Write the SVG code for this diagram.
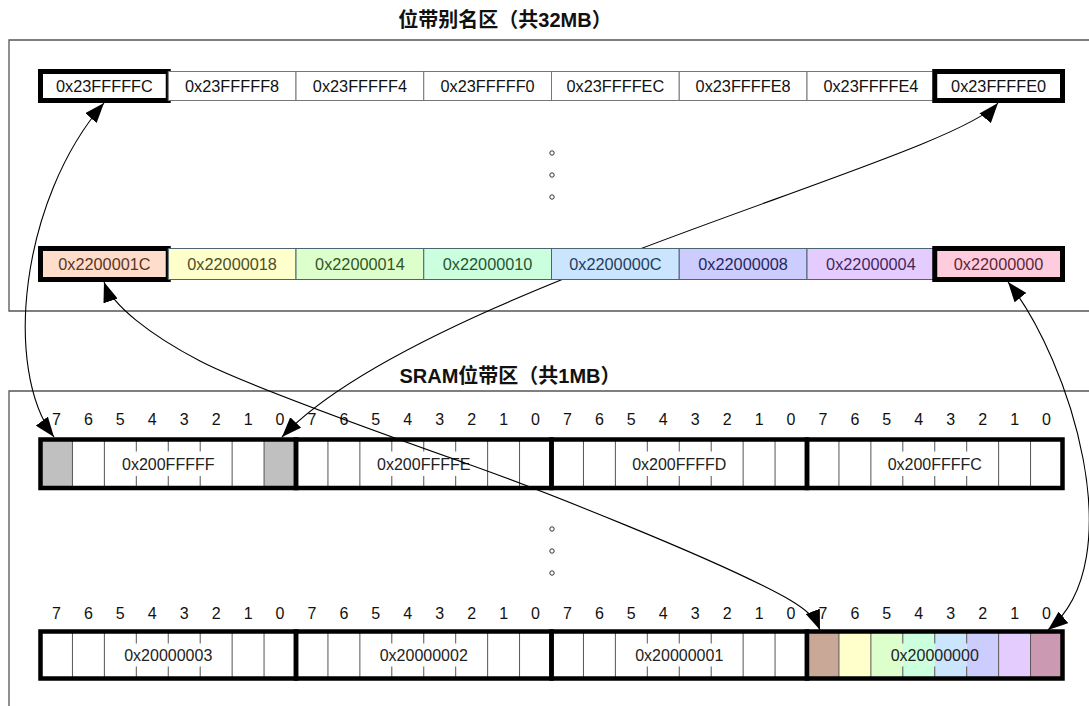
<svg xmlns="http://www.w3.org/2000/svg" width="1089" height="706" viewBox="0 0 1089 706">
<defs>
<style>
.title{font-family:"Liberation Sans","Noto Sans CJK SC",sans-serif;font-weight:bold;font-size:20px;fill:#111;text-anchor:middle}
.frame{fill:none;stroke:#555;stroke-width:1.3}
.cell{fill:#fff;stroke:#777;stroke-width:1}
.ctxt{font-family:"Liberation Sans",Arial,sans-serif;font-size:16.3px;fill:#111;text-anchor:middle}
.sel{fill:none;stroke:#000;stroke-width:5}
.acell{stroke:#4a6470;stroke-width:1}
.bit{font-family:"Liberation Sans",Arial,sans-serif;font-size:16px;fill:#111;text-anchor:middle}
.byte{fill:none;stroke:#000;stroke-width:4.5}
.div{stroke:#555;stroke-width:1}
.btxt{font-family:"Liberation Sans",Arial,sans-serif;font-size:16px;fill:#222;text-anchor:middle}
.dot{fill:#fff;stroke:#333;stroke-width:1}
.conn{fill:none;stroke:#000;stroke-width:1.1;marker-start:url(#ah);marker-end:url(#ah)}
</style>
<marker id="ah" viewBox="0 0 20 15" refX="20" refY="7.5" markerWidth="20" markerHeight="15" markerUnits="userSpaceOnUse" orient="auto-start-reverse">
<path d="M0,0 L20,7.5 L0,15 z" fill="#000"/>
</marker>
</defs>

<g id="frames">
<path class="frame" d="M1089,40 H9 V311 H1089"/>
<path class="frame" d="M1089,391 H9 V706"/>
</g>
<text class="title" x="505" y="27">位带别名区（共32MB）</text>
<text class="title" x="510" y="383">SRAM位带区（共1MB）</text>

<g id="dots">
<circle class="dot" cx="552" cy="153" r="2.2"/>
<circle class="dot" cx="552" cy="175" r="2.2"/>
<circle class="dot" cx="552" cy="197" r="2.2"/>
<circle class="dot" cx="552" cy="529" r="2.2"/>
<circle class="dot" cx="552" cy="551" r="2.2"/>
<circle class="dot" cx="552" cy="573" r="2.2"/>
</g>

<g id="bitlabels">
<text class="bit" y="425" x="56.5 88.4 120.3 152.3 184.2 216.2 248.1 280">76543210</text>
<text class="bit" y="425" x="312 343.9 375.8 407.8 439.7 471.7 503.6 535.5">76543210</text>
<text class="bit" y="425" x="567.5 599.4 631.3 663.3 695.2 727.2 759.1 791">76543210</text>
<text class="bit" y="425" x="823 854.9 886.8 918.8 950.7 982.7 1014.6 1046.5">76543210</text>
<text class="bit" y="618.5" x="56.5 88.4 120.3 152.3 184.2 216.2 248.1 280">76543210</text>
<text class="bit" y="618.5" x="312 343.9 375.8 407.8 439.7 471.7 503.6 535.5">76543210</text>
<text class="bit" y="618.5" x="567.5 599.4 631.3 663.3 695.2 727.2 759.1 791">76543210</text>
<text class="bit" y="618.5" x="823 854.9 886.8 918.8 950.7 982.7 1014.6 1046.5">76543210</text>
</g>

<g id="b-200FFFFF">
<rect x="40.5" y="439.5" width="31.94" height="48.5" fill="#c0c0c0"/>
<rect x="264.06" y="439.5" width="31.94" height="48.5" fill="#c0c0c0"/>
<path class="div" d="M72.44,439.5V488M104.38,439.5V488M232.13,439.5V488M264.06,439.5V488M136.31,439.5v12M168.25,439.5v12M200.19,439.5v12M136.31,488v-12M168.25,488v-12M200.19,488v-12"/>
<text class="btxt" x="168.25" y="469.5">0x200FFFFF</text>
<rect class="byte" x="40.5" y="439.5" width="255.5" height="48.5"/>
</g>
<g id="b-200FFFFE">
<path class="div" d="M327.94,439.5V488M359.88,439.5V488M487.63,439.5V488M519.56,439.5V488M391.81,439.5v12M423.75,439.5v12M455.69,439.5v12M391.81,488v-12M423.75,488v-12M455.69,488v-12"/>
<text class="btxt" x="423.75" y="469.5">0x200FFFFE</text>
<rect class="byte" x="296" y="439.5" width="255.5" height="48.5"/>
</g>
<g id="b-200FFFFD">
<path class="div" d="M583.44,439.5V488M615.38,439.5V488M743.13,439.5V488M775.06,439.5V488M647.31,439.5v12M679.25,439.5v12M711.19,439.5v12M647.31,488v-12M679.25,488v-12M711.19,488v-12"/>
<text class="btxt" x="679.25" y="469.5">0x200FFFFD</text>
<rect class="byte" x="551.5" y="439.5" width="255.5" height="48.5"/>
</g>
<g id="b-200FFFFC">
<path class="div" d="M838.94,439.5V488M870.88,439.5V488M998.63,439.5V488M1030.56,439.5V488M902.81,439.5v12M934.75,439.5v12M966.69,439.5v12M902.81,488v-12M934.75,488v-12M966.69,488v-12"/>
<text class="btxt" x="934.75" y="469.5">0x200FFFFC</text>
<rect class="byte" x="807" y="439.5" width="255.5" height="48.5"/>
</g>

<g id="b-20000003">
<path class="div" d="M72.44,631.5V678.5M104.38,631.5V678.5M232.13,631.5V678.5M264.06,631.5V678.5M136.31,631.5v12M168.25,631.5v12M200.19,631.5v12M136.31,678.5v-12M168.25,678.5v-12M200.19,678.5v-12"/>
<text class="btxt" x="168.25" y="660.5">0x20000003</text>
<rect class="byte" x="40.5" y="631.5" width="255.5" height="47"/>
</g>
<g id="b-20000002">
<path class="div" d="M327.94,631.5V678.5M359.88,631.5V678.5M487.63,631.5V678.5M519.56,631.5V678.5M391.81,631.5v12M423.75,631.5v12M455.69,631.5v12M391.81,678.5v-12M423.75,678.5v-12M455.69,678.5v-12"/>
<text class="btxt" x="423.75" y="660.5">0x20000002</text>
<rect class="byte" x="296" y="631.5" width="255.5" height="47"/>
</g>
<g id="b-20000001">
<path class="div" d="M583.44,631.5V678.5M615.38,631.5V678.5M743.13,631.5V678.5M775.06,631.5V678.5M647.31,631.5v12M679.25,631.5v12M711.19,631.5v12M647.31,678.5v-12M679.25,678.5v-12M711.19,678.5v-12"/>
<text class="btxt" x="679.25" y="660.5">0x20000001</text>
<rect class="byte" x="551.5" y="631.5" width="255.5" height="47"/>
</g>
<g id="b-20000000">
<rect x="807" y="631.5" width="31.94" height="47" fill="#c9a898"/>
<rect x="838.94" y="631.5" width="31.94" height="47" fill="#ffffcc"/>
<rect x="870.88" y="631.5" width="31.94" height="47" fill="#ddffcc"/>
<rect x="902.81" y="631.5" width="31.94" height="47" fill="#ccffdd"/>
<rect x="934.75" y="631.5" width="31.94" height="47" fill="#cce5ff"/>
<rect x="966.69" y="631.5" width="31.94" height="47" fill="#ccccff"/>
<rect x="998.63" y="631.5" width="31.94" height="47" fill="#e5ccff"/>
<rect x="1030.56" y="631.5" width="31.94" height="47" fill="#cc99b3"/>
<path class="div" d="M838.94,631.5V678.5M870.88,631.5V678.5M998.63,631.5V678.5M1030.56,631.5V678.5M902.81,631.5v12M934.75,631.5v12M966.69,631.5v12M902.81,678.5v-12M934.75,678.5v-12M966.69,678.5v-12"/>
<text class="btxt" x="934.75" y="660.5">0x20000000</text>
<rect class="byte" x="807" y="631.5" width="255.5" height="47"/>
</g>

<g id="connectors">
<path class="conn" d="M104,103 C20,200 3,370 54,437"/>
<path class="conn" d="M998,103 C950,160 420,290 282,437"/>
<path class="conn" d="M104,282 C112,305 150,335 200,361 S400,440 465,463 S720,560 790,600 C805,609 815,617 820,630"/>
<path class="conn" d="M1008,282 C1070,360 1133,560 1048,630"/>
</g>

<g id="a-23FFFFFC"><rect class="cell" x="40.5" y="71.5" width="127.75" height="29"/><text class="ctxt" x="104.4" y="92">0x23FFFFFC</text><rect class="sel" x="40.5" y="71.5" width="127.75" height="29"/></g>
<g id="a-23FFFFF8"><rect class="cell" x="168.25" y="71.5" width="127.75" height="29"/><text class="ctxt" x="232.1" y="92">0x23FFFFF8</text></g>
<g id="a-23FFFFF4"><rect class="cell" x="296" y="71.5" width="127.75" height="29"/><text class="ctxt" x="359.9" y="92">0x23FFFFF4</text></g>
<g id="a-23FFFFF0"><rect class="cell" x="423.75" y="71.5" width="127.75" height="29"/><text class="ctxt" x="487.6" y="92">0x23FFFFF0</text></g>
<g id="a-23FFFFEC"><rect class="cell" x="551.5" y="71.5" width="127.75" height="29"/><text class="ctxt" x="615.4" y="92">0x23FFFFEC</text></g>
<g id="a-23FFFFE8"><rect class="cell" x="679.25" y="71.5" width="127.75" height="29"/><text class="ctxt" x="743.1" y="92">0x23FFFFE8</text></g>
<g id="a-23FFFFE4"><rect class="cell" x="807" y="71.5" width="127.75" height="29"/><text class="ctxt" x="870.9" y="92">0x23FFFFE4</text></g>
<g id="a-23FFFFE0"><rect class="cell" x="934.75" y="71.5" width="127.75" height="29"/><text class="ctxt" x="998.6" y="92">0x23FFFFE0</text><rect class="sel" x="934.75" y="71.5" width="127.75" height="29"/></g>

<g id="a-2200001C"><rect class="acell" x="40.5" y="248.5" width="127.75" height="31" fill="#ffddcc"/><text class="ctxt" x="104.4" y="269.5" style="fill:#5c3322">0x2200001C</text><rect class="sel" x="40.5" y="248.5" width="127.75" height="31"/></g>
<g id="a-22000018"><rect class="acell" x="168.25" y="248.5" width="127.75" height="31" fill="#ffffcc"/><text class="ctxt" x="232.1" y="269.5" style="fill:#4d4d26">0x22000018</text></g>
<g id="a-22000014"><rect class="acell" x="296" y="248.5" width="127.75" height="31" fill="#ddffcc"/><text class="ctxt" x="359.9" y="269.5" style="fill:#33551f">0x22000014</text></g>
<g id="a-22000010"><rect class="acell" x="423.75" y="248.5" width="127.75" height="31" fill="#ccffdd"/><text class="ctxt" x="487.6" y="269.5" style="fill:#1f5533">0x22000010</text></g>
<g id="a-2200000C"><rect class="acell" x="551.5" y="248.5" width="127.75" height="31" fill="#cce5ff"/><text class="ctxt" x="615.4" y="269.5" style="fill:#1f3d5c">0x2200000C</text></g>
<g id="a-22000008"><rect class="acell" x="679.25" y="248.5" width="127.75" height="31" fill="#ccccff"/><text class="ctxt" x="743.1" y="269.5" style="fill:#26265c">0x22000008</text></g>
<g id="a-22000004"><rect class="acell" x="807" y="248.5" width="127.75" height="31" fill="#e5ccff"/><text class="ctxt" x="870.9" y="269.5" style="fill:#44265c">0x22000004</text></g>
<g id="a-22000000"><rect class="acell" x="934.75" y="248.5" width="127.75" height="31" fill="#ffccdd"/><text class="ctxt" x="998.6" y="269.5" style="fill:#5c2638">0x22000000</text><rect class="sel" x="934.75" y="248.5" width="127.75" height="31"/></g>
</svg>
